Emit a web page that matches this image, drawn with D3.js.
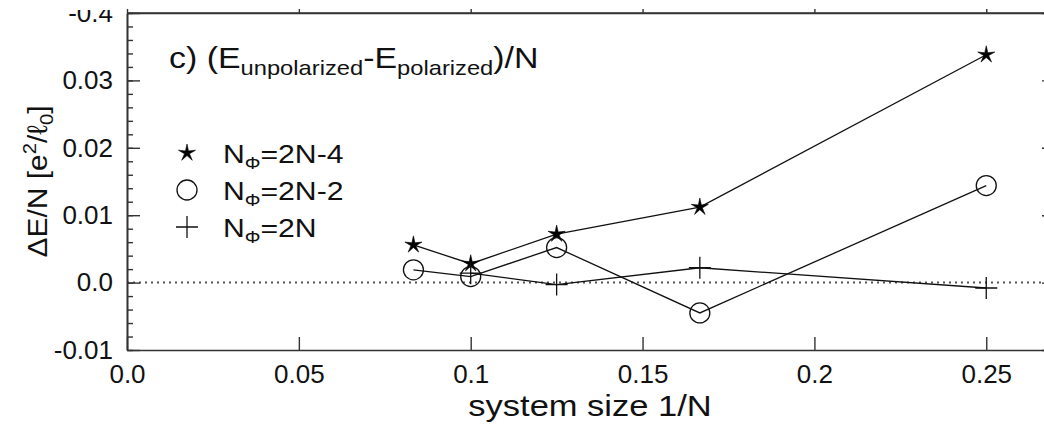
<!DOCTYPE html>
<html>
<head>
<meta charset="utf-8">
<script src="https://cdn.jsdelivr.net/npm/d3@7"></script>
<style>
  body { margin: 0; background: #fff; }
  svg { display: block; font-family: "Liberation Sans", Arial, Helvetica, sans-serif; }
</style>
</head>
<body>
<script>
// system size 1/N for N = 12, 10, 8, 6, 4
const sizes = [1 / 12, 1 / 10, 1 / 8, 1 / 6, 1 / 4];
const sizesPlus = [1 / 10, 1 / 8, 1 / 6, 1 / 4];

// (E_unpolarized - E_polarized)/N
const starValues = [0.0056, 0.0028, 0.0072, 0.0112, 0.0338];   // N_phi = 2N-4
const circleValues = [0.0019, 0.0009, 0.0052, -0.0045, 0.0144]; // N_phi = 2N-2
const plusValues = [0.0014, -0.0003, 0.0022, -0.0008];          // N_phi = 2N

const xTicks = [0, 0.05, 0.1, 0.15, 0.2, 0.25];
const xTickLabels = ["0.0", "0.05", "0.1", "0.15", "0.2", "0.25"];
const yTicks = [-0.01, 0, 0.01, 0.02, 0.03, 0.04];
const yTickLabels = ["-0.01", "0.0", "0.01", "0.02", "0.03", "-0.4"];
const yMinor = d3.range(-0.01, 0.0401, 0.002);

const legendNames = ["=2N-4", "=2N-2", "=2N"];

const width = 1044, height = 426;
const mLeft = 127, mRight = 1055, mTop = 13, mBottom = 350;

const x = d3.scaleLinear().domain([0, 0.27]).range([mLeft, mRight]);
const y = d3.scaleLinear().domain([-0.01, 0.04]).range([mBottom, mTop]);

const svg = d3.create("svg")
  .attr("width", width)
  .attr("height", height);

// the figure is cropped just above the top frame
svg.append("defs").append("clipPath")
  .attr("id", "topcut")
  .append("rect")
  .attr("x", -300).attr("y", 10).attr("width", 2000).attr("height", height);

// zero line
svg.append("line")
  .attr("x1", mLeft).attr("x2", mRight)
  .attr("y1", y(0)).attr("y2", y(0))
  .attr("stroke", "#555")
  .attr("stroke-width", 2)
  .attr("stroke-dasharray", "2,4");

function styleAxis(g) {
  g.selectAll("path.domain").attr("stroke", "#333").attr("stroke-width", 1.6);
  g.selectAll(".tick line").attr("stroke", "#333").attr("stroke-width", 1.4);
  g.selectAll(".tick text").attr("fill", "#111").style("font-size", "26px")
    .style("font-family", "'Liberation Sans', Arial, sans-serif");
}

// minor ticks on the left
svg.append("g")
  .attr("transform", `translate(${mLeft},0)`)
  .call(d3.axisLeft(y).tickValues(yMinor).tickSize(-6).tickSizeOuter(0).tickFormat(""))
  .call(styleAxis);

// major left
svg.append("g")
  .attr("clip-path", "url(#topcut)")
  .attr("transform", `translate(${mLeft},0)`)
  .call(d3.axisLeft(y).tickValues(yTicks).tickSize(-13).tickSizeOuter(0).tickPadding(14)
    .tickFormat((d, i) => yTickLabels[i]))
  .call(styleAxis);

svg.append("g")
  .attr("transform", `translate(${mRight},0)`)
  .call(d3.axisRight(y).tickValues(yTicks).tickSize(-13).tickSizeOuter(0).tickFormat(""))
  .call(styleAxis);

svg.append("g")
  .attr("transform", `translate(0,${mBottom})`)
  .call(d3.axisBottom(x).tickValues(xTicks).tickSize(-13).tickSizeOuter(0).tickPadding(15)
    .tickFormat((d, i) => xTickLabels[i]))
  .call(styleAxis);

svg.append("g")
  .attr("transform", `translate(0,${mTop})`)
  .call(d3.axisTop(x).tickValues(xTicks).tickSize(4).tickSizeOuter(0).tickFormat(""))
  .call(styleAxis);

// top frame line
svg.append("line")
  .attr("x1", mLeft).attr("x2", mRight)
  .attr("y1", y(0.04)).attr("y2", y(0.04))
  .attr("stroke", "#333").attr("stroke-width", 1.6);

// lines
const line = d3.line().x(d => x(d[0])).y(d => y(d[1]));
const starData = d3.zip(sizes, starValues);
const circleData = d3.zip(sizes, circleValues);
const plusData = d3.zip(sizesPlus, plusValues);

[starData, circleData, plusData].forEach(data => {
  svg.append("path")
    .datum(data)
    .attr("d", line)
    .attr("fill", "none")
    .attr("stroke", "#111")
    .attr("stroke-width", 1.3);
});

// marker shapes
const starPath = (() => {
  const pts = [];
  for (let i = 0; i < 10; i++) {
    const r = i % 2 === 0 ? 9 : 2.6;
    const a = -Math.PI / 2 + i * Math.PI / 5;
    pts.push([r * Math.cos(a), r * Math.sin(a)]);
  }
  return "M" + pts.map(p => p.join(",")).join("L") + "Z";
})();

function drawStar(g, cx, cy) {
  g.append("path").attr("d", starPath)
    .attr("transform", `translate(${cx},${cy})`)
    .attr("fill", "#000").attr("stroke", "#000").attr("stroke-width", 0.6);
}
function drawCircle(g, cx, cy) {
  g.append("circle").attr("cx", cx).attr("cy", cy).attr("r", 10)
    .attr("fill", "none").attr("stroke", "#111").attr("stroke-width", 1.3);
}
function drawPlus(g, cx, cy) {
  g.append("path").attr("d", `M${cx - 11},${cy}H${cx + 11}M${cx},${cy - 11}V${cy + 11}`)
    .attr("stroke", "#111").attr("stroke-width", 1.3);
}

const marks = svg.append("g");
starData.forEach(d => drawStar(marks, x(d[0]), y(d[1])));
circleData.forEach(d => drawCircle(marks, x(d[0]), y(d[1])));
plusData.forEach(d => drawPlus(marks, x(d[0]), y(d[1])));

// legend (the original lettering is a bit wider than Liberation Sans)
const legend = svg.append("g");
const drawers = [drawStar, drawCircle, drawPlus];
legendNames.forEach((name, i) => {
  const cy = 153 + i * 37;
  drawers[i](legend, 187, cy);
  const t = legend.append("text")
    .attr("transform", `translate(223,${cy + 10}) scale(1.16,1)`)
    .style("font-size", "26px").attr("fill", "#111");
  t.append("tspan").text("N");
  t.append("tspan").text("\u03A6").style("font-size", "17px").attr("dy", 6);
  t.append("tspan").text(name).attr("dy", -6);
});

// title
const title = svg.append("text")
  .attr("transform", "translate(169,68) scale(1.13,1)")
  .style("font-size", "30px").attr("fill", "#111");
title.append("tspan").text("c) (E");
title.append("tspan").text("unpolarized").style("font-size", "21px").attr("dy", 7);
title.append("tspan").text("-E").attr("dy", -7);
title.append("tspan").text("polarized").style("font-size", "21px").attr("dy", 7);
title.append("tspan").text(")/N").attr("dy", -7);

// axis titles
svg.append("text")
  .attr("transform", "translate(590,416) scale(1.15,1)")
  .attr("text-anchor", "middle")
  .style("font-size", "30px").attr("fill", "#111")
  .text("system size 1/N");

const yl = svg.append("text")
  .attr("transform", `translate(47,${(mTop + mBottom) / 2}) rotate(-90) scale(1.07,1)`)
  .attr("text-anchor", "middle")
  .style("font-size", "28px").attr("fill", "#111");
yl.append("tspan").text("\u0394E/N [e");
yl.append("tspan").text("2").style("font-size", "19px").attr("dy", -11);
yl.append("tspan").text("/\u2113").attr("dy", 11);
yl.append("tspan").text("0").style("font-size", "19px").attr("dy", 6);
yl.append("tspan").text("]").attr("dy", -6);

document.body.appendChild(svg.node());
</script>
</body>
</html>
